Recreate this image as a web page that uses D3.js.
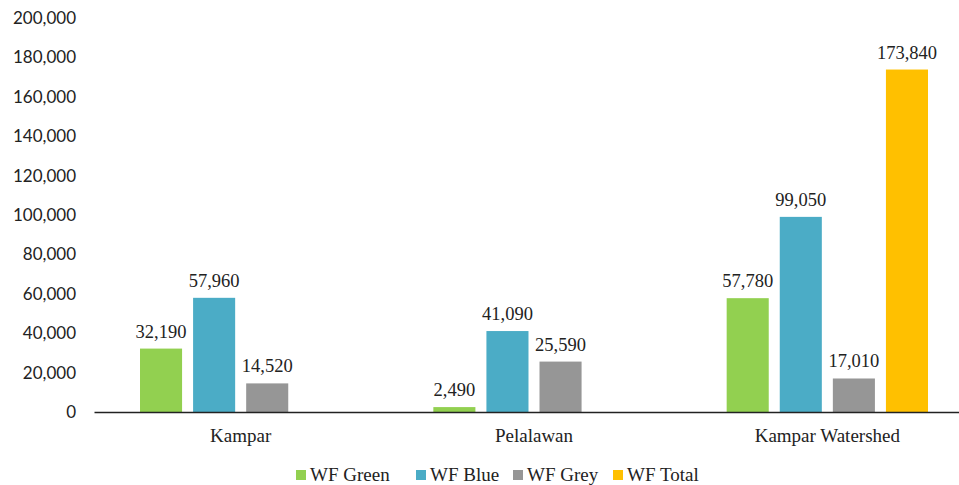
<!DOCTYPE html>
<html>
<head>
<meta charset="utf-8">
<script src="https://cdn.jsdelivr.net/npm/d3@7/dist/d3.min.js"></script>
<style>
  html, body { margin: 0; padding: 0; background: #fff; }
  svg { display: block; }
</style>
</head>
<body>
<svg id="chart" width="959" height="485"></svg>
<script>
// Water footprint by region (m3)
const regions = ["Kampar", "Pelalawan", "Kampar Watershed"];
const seriesNames = ["WF Green", "WF Blue", "WF Grey", "WF Total"];
const wfGreen = [32190, 2490, 57780];
const wfBlue = [57960, 41090, 99050];
const wfGrey = [14520, 25590, 17010];
const wfTotal = [null, null, 173840];
const yTicks = [0, 20000, 40000, 60000, 80000, 100000, 120000, 140000, 160000, 180000, 200000];

const colors = ["#92D050", "#4BACC6", "#969696", "#FFC000"];
const seriesValues = [wfGreen, wfBlue, wfGrey, wfTotal];

const svg = d3.select("#chart");
const W = 959, H = 485;
const plot = { left: 94, right: 974, top: 18, bottom: 412 };

const x0 = d3.scaleBand().domain(regions).range([plot.left, plot.right]).padding(0);
const groupPad = 46;
const x1 = d3.scaleBand().domain(seriesNames)
  .range([groupPad, x0.bandwidth() - groupPad])
  .paddingInner(11 / 53).paddingOuter(0);
const y = d3.scaleLinear().domain([0, 200000]).range([plot.bottom, plot.top]);

const fmt = d3.format(",");
const serif = "'Liberation Serif', 'Times New Roman', serif";

// y tick labels (no axis line, no gridlines)
const yAxis = d3.axisLeft(y).tickValues(yTicks).tickFormat(fmt).tickSize(0).tickPadding(0);
const gy = svg.append("g").attr("transform", `translate(${76},0)`).call(yAxis);
gy.select(".domain").remove();
gy.selectAll("text")
  .attr("font-family", "Lato, 'Liberation Sans', sans-serif")
  .attr("font-size", 17)
  .attr("fill", "#222");

// bars
const rows = [];
regions.forEach((r, i) => {
  seriesNames.forEach((s, j) => {
    const v = seriesValues[j][i];
    if (v !== null && v !== undefined) rows.push({ region: r, series: s, value: v, color: colors[j] });
  });
});

svg.append("defs").append("clipPath").attr("id", "clipAll")
  .append("rect").attr("x", 0).attr("y", 0).attr("width", W).attr("height", H);

const g = svg.append("g").attr("clip-path", "url(#clipAll)");

g.selectAll("rect.bar").data(rows).join("rect")
  .attr("class", "bar")
  .attr("x", d => x0(d.region) + x1(d.series))
  .attr("y", d => y(d.value))
  .attr("width", x1.bandwidth())
  .attr("height", d => y(0) - y(d.value))
  .attr("fill", d => d.color);

// value labels
g.selectAll("text.val").data(rows).join("text")
  .attr("class", "val")
  .attr("x", d => x0(d.region) + x1(d.series) + x1.bandwidth() / 2)
  .attr("y", d => y(d.value) - 11)
  .attr("text-anchor", "middle")
  .attr("font-family", serif)
  .attr("font-size", 18.5)
  .attr("fill", "#222")
  .text(d => fmt(d.value));

// x axis
const xAxis = d3.axisBottom(x0).tickSize(0).tickPadding(0);
const gx = g.append("g").attr("transform", `translate(0,${plot.bottom})`).call(xAxis);
gx.select(".domain").attr("stroke", "#222").attr("stroke-width", 1.6);
gx.selectAll("text")
  .attr("dy", "0")
  .attr("y", 30)
  .attr("font-family", serif)
  .attr("font-size", 19)
  .attr("fill", "#222");

// legend
const legendX = [296, 416, 513, 613];
const legend = svg.append("g").attr("transform", "translate(0,475)");
seriesNames.forEach((s, j) => {
  const it = legend.append("g").attr("transform", `translate(${legendX[j]},0)`);
  it.append("rect").attr("x", 0).attr("y", -5).attr("width", 10).attr("height", 10).attr("fill", colors[j]);
  it.append("text").attr("x", 14).attr("y", 6)
    .attr("font-family", serif)
    .attr("font-size", 19)
    .attr("fill", "#222")
    .text(s);
});
</script>
</body>
</html>
